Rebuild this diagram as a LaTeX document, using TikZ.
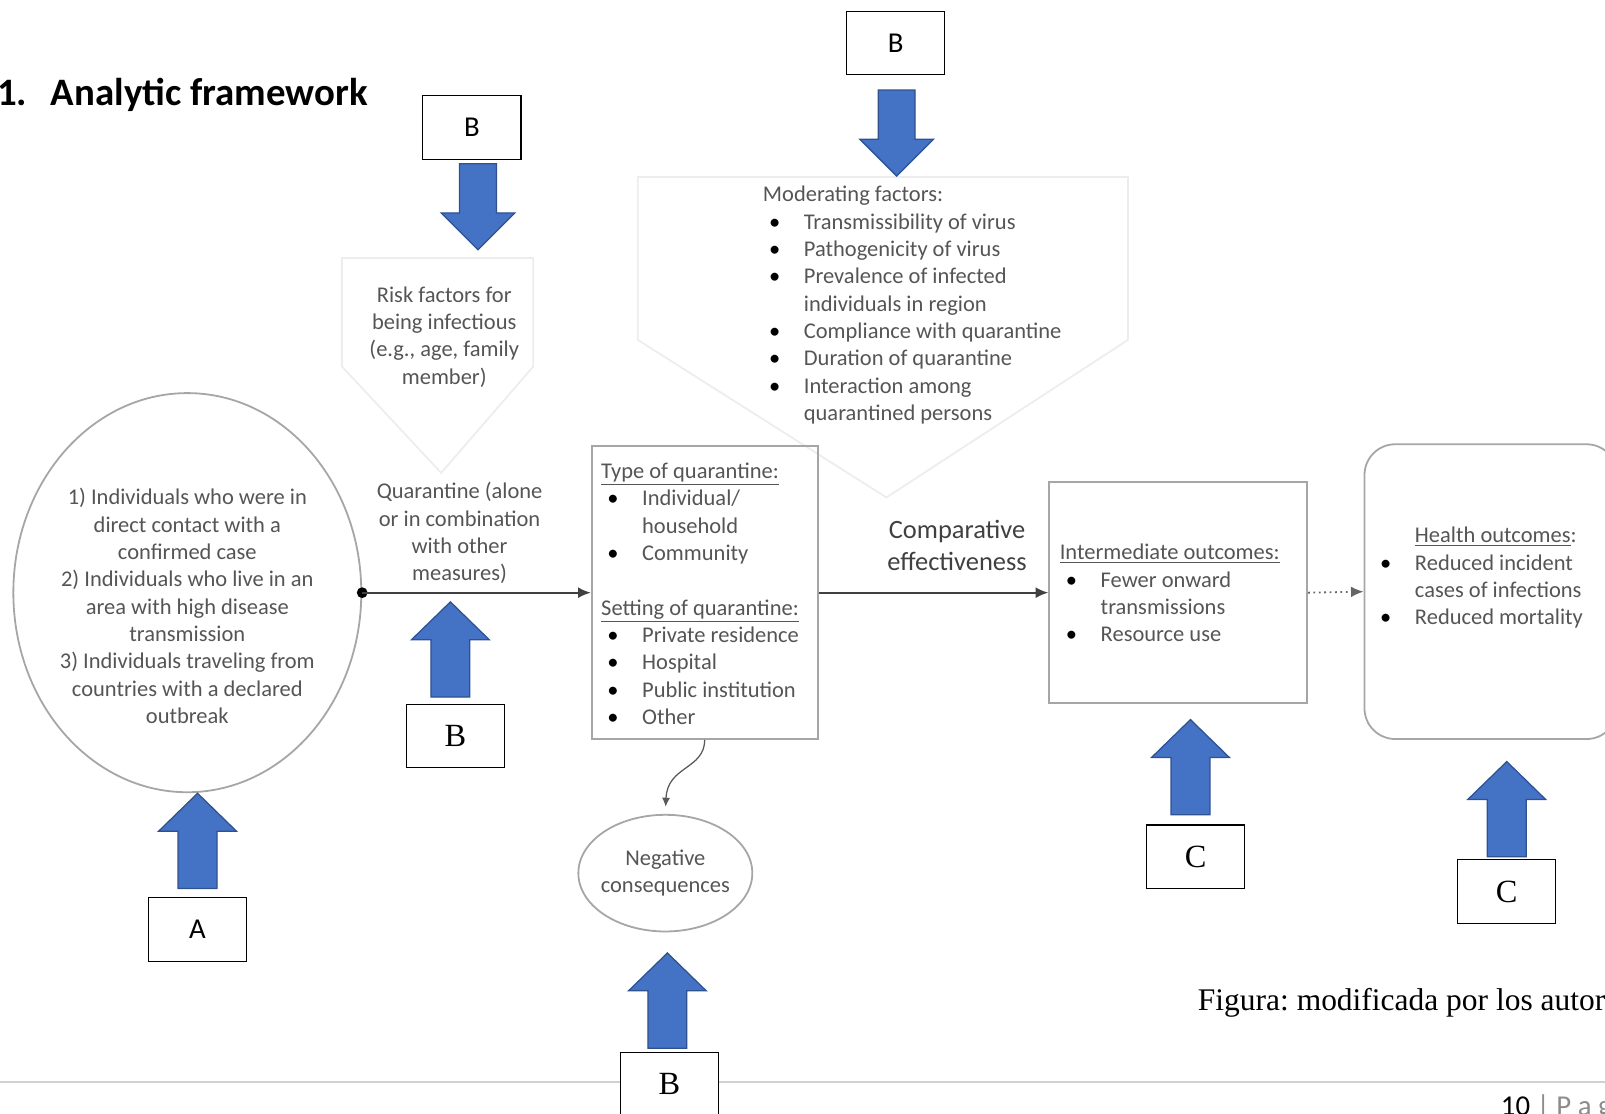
\documentclass[tikz,border=0pt]{standalone}
\usepackage{fontspec}
\setmainfont{Carlito}
\newfontfamily\timesfont{Liberation Serif}
\usetikzlibrary{calc,shapes.geometric,arrows.meta}
\frenchspacing

\definecolor{txtgray}{HTML}{555555}
\definecolor{boxgray}{HTML}{A6A6A6}
\definecolor{arrblue}{HTML}{4472C4}
\definecolor{arrline}{HTML}{2F528F}

\newcommand{\bul}{\hspace*{0.12cm}\makebox[0.68cm][l]{\color{black}\textbullet}}
\newcommand{\ind}{\hspace*{0.8cm}}

\tikzset{
  blockfill/.style={fill=arrblue, draw=arrline, line width=0.7pt},
  pics/blockup/.style={code={
    \path[blockfill] (0,0) -- (38,37) -- (19,37) -- (19,93) -- (-19,93) -- (-19,37) -- (-38,37) -- cycle;}},
  pics/blockdown/.style={code={
    \path[blockfill] (0,0) -- (36,-36) -- (18,-36) -- (18,-84) -- (-18,-84) -- (-18,-36) -- (-36,-36) -- cycle;}},
  labbox/.style={draw, line width=0.6pt, fill=white, minimum width=1.92cm, minimum height=1.24cm, inner sep=0pt},
  graybox/.style={draw=boxgray, line width=1pt, inner sep=0pt},
  faint/.style={draw=black!7, line width=1pt},
  conn/.style={draw=black!75, line width=1pt, -{Latex[length=7pt,width=6pt]}},
  bodytxt/.style={text=txtgray, font=\fontsize{12.5}{15.2}\selectfont, inner sep=0pt},
}

\begin{document}
\begin{tikzpicture}[x=0.02cm,y=-0.02cm]
  \useasboundingbox (0,0) rectangle (1568,1088);
  \clip (0,0) rectangle (1568,1088);

  % page footer
  \draw[black!18, line width=1pt] (0,1057) -- (1568,1057);
  \node[anchor=base west, inner sep=0pt, font=\fontsize{16}{18}\selectfont] (pg) at (1466,1090)
    {10 {\color{black!45}| P a g e}};

  \node[anchor=base west, inner sep=0pt, font=\bfseries\fontsize{21.6}{24}\selectfont] (title) at (-3,103)
    {1.\hspace{0.46cm}Analytic framework};

  % faint pentagons behind the factor texts
  \draw[faint] (334,252) -- (521,252) -- (521,358) -- (431,462) -- (334,358) -- cycle;
  \draw[faint] (623,173) -- (1102,173) -- (1102,332) -- (866,486) -- (623,332) -- cycle;

  \node[bodytxt, align=center] (risk) at (434,329)
    {Risk factors for\\ being infectious\\ (e.g., age, family\\ member)};
  \node[bodytxt, align=left, anchor=west] (mod) at (745,298)
    {Moderating factors:\\
     \bul Transmissibility of virus\\
     \bul Pathogenicity of virus\\
     \bul Prevalence of infected\\
     \ind individuals in region\\
     \bul Compliance with quarantine\\
     \bul Duration of quarantine\\
     \bul Interaction among\\
     \ind quarantined persons};

  % main chain
  \node[ellipse, graybox, minimum width=6.8cm, minimum height=7.8cm] (grp) at (183,579) {};
  \node[bodytxt, align=center] (grptxt) at (183,592)
    {1) Individuals who were in\\ direct contact with a\\ confirmed case\\
     2) Individuals who live in an\\ area with high disease\\ transmission\\
     3) Individuals traveling from\\ countries with a declared\\ outbreak};

  \node[graybox, minimum width=4.42cm, minimum height=5.72cm] (typ) at (688.5,579) {};
  \node[bodytxt, align=left, anchor=west] (typtxt) at (587,580)
    {\underline{Type of quarantine:}\\
     \bul Individual/\\
     \ind household\\
     \bul Community\\[15.2pt]
     \underline{Setting of quarantine:}\\
     \bul Private residence\\
     \bul Hospital\\
     \bul Public institution\\
     \bul Other};

  \node[graybox, minimum width=5.04cm, minimum height=4.32cm] (int) at (1151,579) {};
  \node[bodytxt, align=left, anchor=west] (inttxt) at (1035,579.5)
    {\underline{Intermediate outcomes:}\\
     \bul Fewer onward\\
     \ind transmissions\\
     \bul Resource use};

  \node[graybox, rounded corners=0.6cm, minimum width=4.94cm, minimum height=5.76cm] (hlt) at (1456.5,578) {};
  \node[bodytxt, align=left, anchor=west] (hlttxt) at (1342,564.5)
    {\ind\underline{Health outcomes}:\\
     \bul Reduced incident\\
     \ind cases of infections\\
     \bul Reduced mortality};

  \node[ellipse, graybox, minimum width=3.4cm, minimum height=2.28cm] (neg) at (650,853) {};
  \node[bodytxt, align=center] (negtxt) at (650,853) {Negative\\ consequences};

  \fill[black] (grp.east) circle (3pt);
  \draw[conn] (grp.east) -- (typ.west);
  \node[bodytxt, align=center] (quar) at (449,521)
    {Quarantine (alone\\ or in combination\\ with other\\ measures)};
  \draw[conn] (typ.east) -- (int.west);
  \node[align=center, text=black!75, inner sep=0pt, font=\fontsize{14.7}{17.6}\selectfont] (comp) at (935,533)
    {Comparative\\ effectiveness};
  \draw[black!60, line width=1pt, dotted, -{Latex[length=7pt,width=6pt]}] (int.east) -- (hlt.west);
  \draw[black!65, line width=0.7pt, -{Latex[length=5pt,width=4.5pt]}, shorten >=4pt]
    (typ.south) .. controls (688,752) and (652,748) .. (neg.north);

  % labelled block arrows
  \node[labbox, font=\fontsize{16}{18}\selectfont] (bA) at (193,908) {A};
  \pic at (193,775) {blockup};
  \node[labbox, font=\timesfont\fontsize{18}{20}\selectfont] (bQ) at (445,719) {B};
  \pic at (440,588) {blockup};
  \node[labbox, font=\timesfont\fontsize{18}{20}\selectfont] (bN) at (654,1059) {B};
  \pic at (652,931) {blockup};
  \node[labbox, font=\timesfont\fontsize{18}{20}\selectfont] (cI) at (1168,837) {C};
  \pic at (1163,703) {blockup};
  \node[labbox, font=\timesfont\fontsize{18}{20}\selectfont] (cH) at (1472,871) {C};
  \pic at (1472,744) {blockup};

  \node[labbox, font=\fontsize{16}{18}\selectfont] (bR) at (461,124.5) {B};
  \pic at (467,244) {blockdown};
  \node[labbox, font=\fontsize{16}{18}\selectfont] (bM) at (875,42) {B};
  \pic at (876,172) {blockdown};

  \node[anchor=base west, inner sep=0pt, font=\timesfont\fontsize{17.5}{20}\selectfont] (fig) at (1170,987)
    {Figura: modificada por los autores};
\end{tikzpicture}
\end{document}
